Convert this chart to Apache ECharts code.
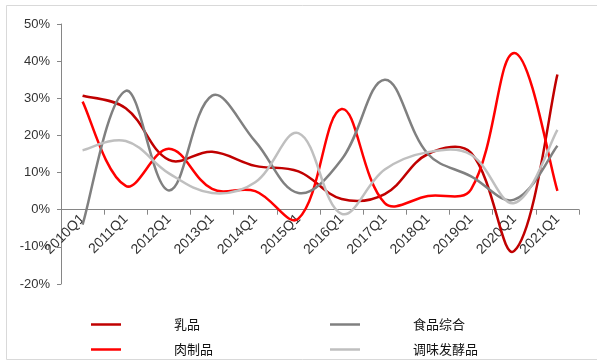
<!DOCTYPE html>
<html>
<head>
<meta charset="utf-8">
<script src="https://cdn.jsdelivr.net/npm/echarts@6/dist/echarts.min.js"></script>
<style>
html,body{margin:0;padding:0;background:#fff;}
#c{width:597px;height:362px;}
</style>
</head>
<body>
<div id="c"></div>
<script>
var categories = ['2010Q1','2011Q1','2012Q1','2013Q1','2014Q1','2015Q1','2016Q1','2017Q1','2018Q1','2019Q1','2020Q1','2021Q1'];
var dairy   = [30.7, 27.3, 13.4, 15.6, 11.8, 10.3, 2.9, 4.2, 15.0, 15.3, -11.1, 36.4];   // 乳品
var meat    = [29.1, 6.4, 16.4, 5.6, 5.0, -2.4, 27.1, 1.8, 3.7, 5.5, 42.2, 5.1];      // 肉制品
var food    = [-4.0, 32.0, 5.2, 30.7, 18.4, 4.5, 13.5, 35.0, 15.0, 9.0, 2.7, 17.2];   // 食品综合
var season  = [16.0, 18.5, 9.8, 4.5, 7.4, 20.6, -1.1, 10.8, 15.5, 14.8, 1.8, 21.5];   // 调味发酵品
var yTicks  = [-20, -10, 0, 10, 20, 30, 40, 50];
var names   = ['乳品', '肉制品', '食品综合', '调味发酵品'];
var colors  = ['#C00000', '#FF0000', '#808080', '#BFBFBF'];

var chart = echarts.init(document.getElementById('c'));
var dataSets = [dairy, meat, food, season];

function mkLegend(i, left, top) {
  return {
    data: [names[i]], left: left, top: top, orient: 'horizontal', padding: 0,
    icon: 'rect', itemWidth: 30, itemHeight: 2.5, itemGap: 0,
    textStyle: { fontFamily: 'Noto Sans CJK SC', fontSize: 13, color: '#111', padding: [0, 0, 0, 48] },
    selectedMode: false
  };
}

// Smoothed line through the data points (length-weighted cardinal spline),
// positioned by the chart's own axes via api.coord
var S = 0.38;
function smoothRenderer(arr, color) {
  return function (params, api) {
    if (params.dataIndex !== 0) return null;
    var P = arr.map(function (v, i) { return api.coord([i, v]); });
    var n = P.length, cin = [], cout = [];
    function dist(a, b) { return Math.sqrt((a[0]-b[0])*(a[0]-b[0]) + (a[1]-b[1])*(a[1]-b[1])); }
    for (var i = 0; i < n; i++) {
      if (i === 0) {
        cout[i] = [P[0][0] + (P[1][0]-P[0][0]) * S * 0.5, P[0][1] + (P[1][1]-P[0][1]) * S * 0.5];
        cin[i] = P[0];
      } else if (i === n - 1) {
        cin[i] = [P[i][0] - (P[i][0]-P[i-1][0]) * S * 0.5, P[i][1] - (P[i][1]-P[i-1][1]) * S * 0.5];
        cout[i] = P[i];
      } else {
        var vx = P[i+1][0] - P[i-1][0], vy = P[i+1][1] - P[i-1][1];
        var d0 = dist(P[i], P[i-1]), d1 = dist(P[i+1], P[i]);
        var r0 = d0 / (d0 + d1), r1 = d1 / (d0 + d1);
        cin[i] = [P[i][0] - vx * S * r0, P[i][1] - vy * S * r0];
        cout[i] = [P[i][0] + vx * S * r1, P[i][1] + vy * S * r1];
      }
    }
    var d = 'M' + P[0][0] + ' ' + P[0][1];
    for (var k = 0; k < n - 1; k++) {
      d += ' C' + cout[k][0] + ' ' + cout[k][1] + ' ' + cin[k+1][0] + ' ' + cin[k+1][1] + ' ' + P[k+1][0] + ' ' + P[k+1][1];
    }
    return {
      type: 'path', shape: { pathData: d },
      style: { fill: 'none', stroke: color, lineWidth: 2.5, lineJoin: 'round', lineCap: 'butt' }
    };
  };
}

chart.setOption({
  animation: false,
  backgroundColor: '#fff',
  graphic: [{
    type: 'rect', shape: { x: 6.5, y: 5.5, width: 620, height: 354 },
    style: { fill: 'none', stroke: '#d9d9d9', lineWidth: 1 }, silent: true, z: -1
  }],
  grid: { left: 61, right: 18, top: 24, bottom: 78, containLabel: false },
  legend: [
    mkLegend(0, 91, 318),
    mkLegend(2, 330, 318),
    mkLegend(1, 91, 343),
    mkLegend(3, 330, 343)
  ],
  xAxis: {
    type: 'category', data: categories, boundaryGap: true, position: 'bottom', offset: -74.3,
    axisLine: { onZero: false, lineStyle: { color: '#868686', width: 1 } },
    axisTick: { show: true, length: 5, inside: false, lineStyle: { color: '#868686' } },
    axisLabel: { rotate: 45, margin: 7, fontFamily: 'Liberation Sans, Arial', fontSize: 14, color: '#333' },
    splitLine: { show: false }
  },
  yAxis: {
    type: 'value', min: yTicks[0], max: yTicks[yTicks.length - 1], interval: 10,
    axisLine: { show: true, lineStyle: { color: '#868686', width: 1 } },
    axisTick: { show: true, length: 4, lineStyle: { color: '#868686' } },
    axisLabel: { margin: 11, fontFamily: 'Liberation Sans, Arial', fontSize: 13, color: '#333',
      formatter: function (v) { return v + '%'; } },
    splitLine: { show: false }
  },
  series: dataSets.map(function (arr, i) {
    return {
      name: names[i], type: 'custom', coordinateSystem: 'cartesian2d',
      data: arr.map(function (v, k) { return [k, v]; }),
      encode: { x: 0, y: 1 },
      renderItem: smoothRenderer(arr, colors[i]),
      itemStyle: { color: colors[i] }, z: 2 + i, silent: true
    };
  })
});
</script>
</body>
</html>
